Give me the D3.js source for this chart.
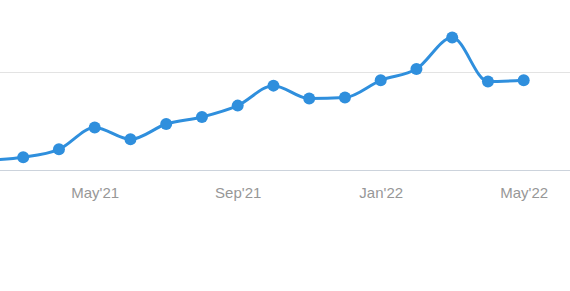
<!DOCTYPE html>
<html>
<head>
<meta charset="utf-8">
<script src="https://cdn.jsdelivr.net/npm/d3@7"></script>
<style>
html,body{margin:0;padding:0;background:#fff;}
svg{display:block;}
</style>
</head>
<body>
<svg id="chart" width="570" height="291"></svg>
<script>
const months = ["Feb'21","Mar'21","Apr'21","May'21","Jun'21","Jul'21","Aug'21","Sep'21","Oct'21","Nov'21","Dec'21","Jan'22","Feb'22","Mar'22","Apr'22","May'22"];
const values = [10.5, 13.3, 21.4, 43.6, 31.6, 47.2, 54.4, 66, 86.4, 73.2, 74.2, 91.8, 103.4, 135.4, 90.5, 91.8];
const tickLabels = ["May'21","Sep'21","Jan'22","May'22"];
const gridValues = [0, 100];

const svg = d3.select("#chart");
const x = d3.scaleLinear().domain([3, 15]).range([94.7, 523.7]);
const y = d3.scaleLinear().domain([0, 100]).range([170.3, 72.3]);

// grid
svg.append("g").selectAll("line").data(gridValues).join("line")
  .attr("x1", 0).attr("x2", 570)
  .attr("y1", d => Math.round(y(d)) + 0.5).attr("y2", d => Math.round(y(d)) + 0.5)
  .attr("stroke", d => d === 0 ? "#ccd3dc" : "#e3e3e3")
  .attr("stroke-width", 1);

// axis labels
const xAxis = d3.axisBottom(x)
  .tickValues(tickLabels.map(t => months.indexOf(t)))
  .tickFormat(i => months[i])
  .tickSize(0).tickPadding(0);
const ax = svg.append("g").attr("transform", "translate(0,197.5)").call(xAxis);
ax.select(".domain").remove();
ax.selectAll("text")
  .attr("fill", "#979797")
  .attr("font-family", "'Liberation Sans', Arial, sans-serif")
  .attr("font-size", 15)
  .attr("y", 0)
  .attr("dy", "0");

const line = d3.line().x((d, i) => x(i)).y(d => y(d)).curve(d3.curveMonotoneX);
svg.append("path").datum(values)
  .attr("d", line)
  .attr("fill", "none")
  .attr("stroke", "#2f8fdd")
  .attr("stroke-width", 3);

svg.append("g").selectAll("circle").data(values).join("circle")
  .attr("cx", (d, i) => x(i)).attr("cy", d => y(d))
  .attr("r", 6)
  .attr("fill", "#2f8fdd");
</script>
</body>
</html>
